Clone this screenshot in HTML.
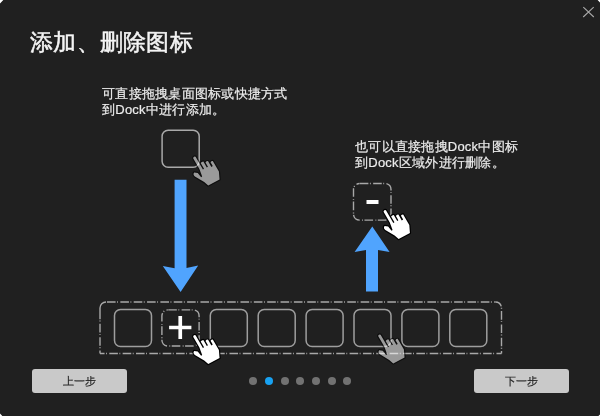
<!DOCTYPE html>
<html><head><meta charset="utf-8">
<style>
html,body{margin:0;padding:0;}
body{width:600px;height:416px;background:#202020;position:relative;overflow:hidden;font-family:"Liberation Sans",sans-serif;color:#e8e8e8;}
.t{position:absolute;white-space:nowrap;will-change:transform;}
#title{left:30px;top:28px;font-size:23px;letter-spacing:0.3px;color:#f4f4f4;line-height:28px;-webkit-text-stroke:0.5px #f4f4f4;}
#tx1{left:101.5px;top:85.5px;font-size:13px;letter-spacing:0.25px;line-height:16px;color:#ececec;-webkit-text-stroke:0.2px #ececec;}
#tx2{left:355px;top:139px;font-size:13px;letter-spacing:0.25px;line-height:16px;color:#ececec;-webkit-text-stroke:0.2px #ececec;}
.btn{position:absolute;top:369px;width:95px;height:24px;background:#c9c9c9;border-radius:3px;font-size:11px;line-height:24px;text-align:center;color:#1e1e1e;letter-spacing:-0.4px;text-indent:-0.4px;will-change:transform;-webkit-text-stroke:0.15px #1e1e1e;}
.dot{position:absolute;top:377px;width:8px;height:8px;border-radius:50%;background:#727272;}
svg{position:absolute;left:0;top:0;}
</style></head>
<body>
<div class="t" id="title">添加、删除图标</div>
<div class="t" id="tx1">可直接拖拽桌面图标或快捷方式<br>到Dock中进行添加。</div>
<div class="t" id="tx2">也可以直接拖拽Dock中图标<br>到Dock区域外进行删除。</div>

<svg width="600" height="416" viewBox="0 0 600 416">
  <defs>
    <g id="hand">
      <path d="M-1.4,0.5 Q0,-1.2 1.4,0.5 L1.4,15.2 L2.7,15.2 L2.7,8.5 Q4.25,7.6 5.8,8.5 L5.8,15.4 L7.1,15.4 L7.1,10.5 Q8.55,9.6 10,10.5 L10,17.2 L11.6,17.2 L11.6,12.8 Q12.9,11.9 14.2,12.8 L14.2,25 L11.8,30 L10.8,32.2 L-2,31.8 L-3.8,26.8 L-9,17.2 Q-10,14.2 -7.6,13.4 L-4.8,15.6 L-4,21 L-2.8,21 L-1.4,13 Z" fill="#fff" stroke="#000" stroke-width="2.4" stroke-linejoin="round" paint-order="stroke"/>
    </g>
  </defs>
  <!-- close X -->
  <path d="M583.3,7.2 L593.8,17 M593.7,7.2 L583.2,17" stroke="#a9a9a9" stroke-width="1.1"/>
  <path d="M597.6,0 H600 V2.4 Z M0,0 H3.3 L0,3.5 Z M0,413.6 V416 H2.3 Z M598.4,416 H600 V414.4 Z" fill="#ffffff"/>

  <!-- top box -->
  <rect x="162.1" y="130.3" width="37.1" height="37" rx="6" fill="none" stroke="#a9a9a9" stroke-width="1.5"/>
  <!-- down arrow -->
  <path d="M174.6,179.8 H186.5 V268 L198.2,265.6 L180.6,291.9 L162.8,266 L174.6,268.2 Z" fill="#50a4fe"/>

  <!-- dock -->
  <g fill="none" stroke="#a8a8a8" stroke-width="1.4" stroke-dasharray="8.6 1.5 0.9 2.35">
    <path d="M106,302 H495.5" stroke-dashoffset="12.35"/>
    <path d="M495.5,302 A6,6 0 0 1 501.5,308 V353.5" stroke-dashoffset="1.13"/>
    <path d="M100,353.5 H501.5" stroke-dashoffset="4.05"/>
    <path d="M106,302 A6,6 0 0 0 100,308 V319.3" stroke-dasharray="none"/>
    <path d="M100,319.3 V353.5" stroke-dashoffset="8.85"/>
  </g>
  <g fill="none" stroke="#9e9e9e" stroke-width="1.5">
    <rect x="114.5" y="309.5" width="37" height="37" rx="6"/>
    <rect x="210.3" y="309.5" width="37" height="37" rx="6"/>
    <rect x="258.2" y="309.5" width="37" height="37" rx="6"/>
    <rect x="306.1" y="309.5" width="37" height="37" rx="6"/>
    <rect x="354" y="309.5" width="37" height="37" rx="6"/>
    <rect x="401.9" y="309.5" width="37" height="37" rx="6"/>
    <rect x="449.8" y="309.5" width="37" height="37" rx="6"/>
  </g>
  <rect x="161.9" y="309.9" width="37.2" height="36.1" rx="6" fill="none" stroke="#a8a8a8" stroke-width="1.4" stroke-dasharray="8.6 1.5 0.9 2.35" stroke-dashoffset="13"/>
  <path d="M169.1,327.5 H191.4 M180.25,316 V339" stroke="#fff" stroke-width="3.7"/>

  <!-- minus box -->
  <rect x="353.5" y="183.5" width="37.5" height="36.6" rx="6" fill="none" stroke="#a8a8a8" stroke-width="1.4" stroke-dasharray="8.6 1.5 0.9 2.35" stroke-dashoffset="13.05"/>
  <rect x="366.5" y="200" width="12" height="4" fill="#fff"/>
  <!-- up arrow -->
  <path d="M366,291.4 V250.1 L354.6,252.1 L372.3,226.4 L389.6,252.1 L378,250.1 V291.4 Z" fill="#50a4fe"/>

  <!-- hands -->
  <use href="#hand" transform="translate(194.1,157) rotate(-30)" opacity="0.55"/>
  <use href="#hand" transform="translate(194.1,335.5) rotate(-30)"/>
  <use href="#hand" transform="translate(379.1,334.9) rotate(-30)" opacity="0.55"/>
  <use href="#hand" transform="translate(384.5,210.5) rotate(-30)"/>
</svg>

<div class="btn" style="left:32px;">上一步</div>
<div class="btn" style="left:474px;">下一步</div>
<div class="dot" style="left:249px;"></div>
<div class="dot" style="left:265px;background:#18a2f2;"></div>
<div class="dot" style="left:280.5px;"></div>
<div class="dot" style="left:296px;"></div>
<div class="dot" style="left:312px;"></div>
<div class="dot" style="left:327.5px;"></div>
<div class="dot" style="left:343px;"></div>
</body></html>
